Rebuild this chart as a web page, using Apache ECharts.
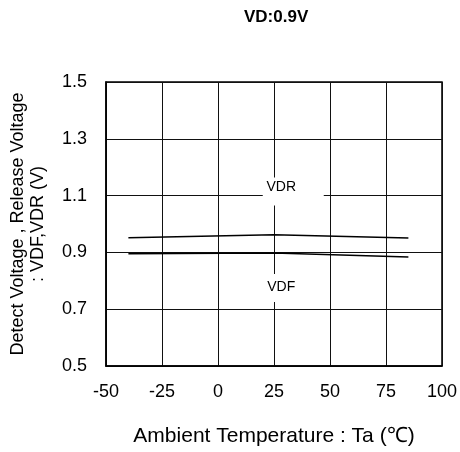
<!DOCTYPE html>
<html>
<head>
    <meta charset="utf-8">
    <title>VD:0.9V</title>
    <script src="https://cdn.jsdelivr.net/npm/echarts@6/dist/echarts.min.js"></script>
    <style>
        body { margin: 0; background: #fff; }
        #chart { width: 460px; height: 452px; }
    </style>
</head>
<body>
<div id="chart"></div>
<script type="text/javascript">
    // temperature (Ta) vs detect / release voltage
    var temps = [-40, 25, 85];
    var vdr = [0.952, 0.962, 0.951];
    var vdf = [0.895, 0.898, 0.884];
    var xTicks = [-50, -25, 0, 25, 50, 75, 100];
    var yTicks = [0.5, 0.7, 0.9, 1.1, 1.3, 1.5];

    function pairs(xs, ys) {
        var out = [];
        for (var i = 0; i < xs.length; i++) {
            out.push([xs[i], ys[i]]);
        }
        return out;
    }

    var font = 'Liberation Sans, Arial, sans-serif';
    var myChart = echarts.init(document.getElementById('chart'));
    myChart.setOption({
        animation: false,
        title: {
            text: 'VD:0.9V',
            left: 239,
            top: 4,
            textStyle: { fontFamily: font, fontSize: 17, fontWeight: 'bold', color: '#000' }
        },
        grid: {
            left: 104, right: 18, top: 82, bottom: 85,
            show: true, borderColor: '#000', borderWidth: 1.5
        },
        xAxis: {
            type: 'value',
            min: xTicks[0],
            max: xTicks[xTicks.length - 1],
            interval: 25,
            name: 'Ambient Temperature : Ta (\u2103)',
            nameLocation: 'middle',
            nameGap: 60,
            nameTextStyle: { fontFamily: font, fontSize: 21, color: '#000' },
            axisLine: { show: true, onZero: false, lineStyle: { color: '#000', width: 1.5 } },
            axisTick: { show: false },
            axisLabel: { fontFamily: font, fontSize: 18, color: '#000', margin: 17 },
            splitLine: { show: true, lineStyle: { color: '#111', width: 1 } }
        },
        yAxis: {
            type: 'value',
            min: yTicks[0],
            max: yTicks[yTicks.length - 1],
            interval: 0.2,
            name: 'Detect Voltage , Release Voltage\n: VDF,VDR (V)',
            nameLocation: 'middle',
            nameRotate: 90,
            nameGap: 58,
            nameTextStyle: { fontFamily: font, fontSize: 18, color: '#000', lineHeight: 20 },
            axisLine: { show: true, onZero: false, lineStyle: { color: '#000', width: 1.5 } },
            axisTick: { show: false },
            axisLabel: {
                fontFamily: font, fontSize: 18, color: '#000', margin: 19,
                formatter: function (v) { return v.toFixed(1); }
            },
            splitLine: { show: true, lineStyle: { color: '#111', width: 1 } }
        },
        series: [{
            name: 'VDR',
            type: 'line',
            data: pairs(temps, vdr),
            symbol: 'none',
            lineStyle: { color: '#000', width: 1.5 },
            markPoint: {
                symbol: 'rect',
                symbolSize: [61, 28],
                itemStyle: { color: '#fff' },
                label: { show: true, fontFamily: font, fontSize: 14, color: '#000', offset: [-12, -4] },
                data: [{ coord: [33.6, 1.114], value: 'VDR' }]
            }
        }, {
            name: 'VDF',
            type: 'line',
            data: pairs(temps, vdf),
            symbol: 'none',
            lineStyle: { color: '#000', width: 1.5 },
            markPoint: {
                symbol: 'rect',
                symbolSize: [61, 28],
                itemStyle: { color: '#fff' },
                label: { show: true, fontFamily: font, fontSize: 14, color: '#000', offset: [-12, -1] },
                data: [{ coord: [33.6, 0.775], value: 'VDF' }]
            }
        }]
    });
</script>
</body>
</html>
